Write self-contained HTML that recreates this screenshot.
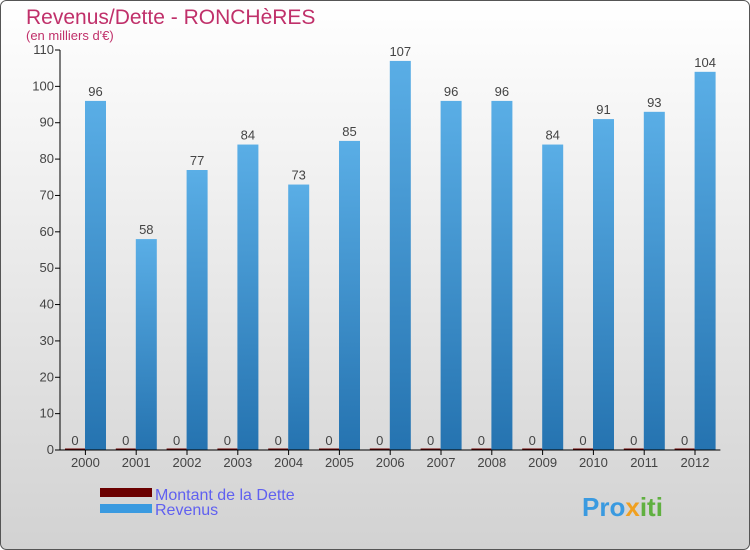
<!DOCTYPE html>
<html><head><meta charset="utf-8"><style>
body{margin:0}
#c{width:750px;height:550px;position:relative;overflow:hidden;font-family:"Liberation Sans",sans-serif}
</style></head><body>
<div id="c">
<svg width="750" height="550" xmlns="http://www.w3.org/2000/svg">
<defs>
<linearGradient id="bg" x1="0" y1="0" x2="0" y2="1"><stop offset="0" stop-color="#ffffff"/><stop offset="1" stop-color="#d2d2d2"/></linearGradient>
<linearGradient id="rv" x1="0" y1="0" x2="0" y2="1"><stop offset="0" stop-color="#5aaee6"/><stop offset="1" stop-color="#2573b0"/></linearGradient>
</defs>
<rect x="0.5" y="0.5" width="749" height="549" rx="6" fill="url(#bg)" stroke="#555"/>
<text x="26" y="24" font-size="21" fill="#c0306a">Revenus/Dette - RONCHèRES</text>
<text x="26" y="40" font-size="13" fill="#c0306a">(en milliers d'€)</text>
<g id="plot"></g>
<rect x="100" y="488" width="52" height="9" fill="#6b0000"/>
<text x="155" y="500" font-size="16" fill="#6060f0">Montant de la Dette</text>
<rect x="100" y="504" width="52" height="9" fill="#3a9ae0"/>
<text x="155" y="515" font-size="16" fill="#6060f0">Revenus</text>
<text x="582" y="516" font-size="26" font-weight="bold" fill="#3a9ae0">Pro<tspan fill="#f0a020">x</tspan><tspan fill="#60b040">iti</tspan></text>
</svg>
</div>
<script>
const categories=["2000","2001","2002","2003","2004","2005","2006","2007","2008","2009","2010","2011","2012"];
const dette=[0,0,0,0,0,0,0,0,0,0,0,0,0];
const revenus=[96,58,77,84,73,85,107,96,96,84,91,93,104];
const yTicks=[0,10,20,30,40,50,60,70,80,90,100,110];
const NS="http://www.w3.org/2000/svg";
const g=document.getElementById('plot');
const x0=60,gw=50.8,yb=450,yt=50,ymax=110;
const y=v=>yb-(v/ymax)*(yb-yt);
function mk(t,a,txt){const e=document.createElementNS(NS,t);for(const k in a)e.setAttribute(k,a[k]);if(txt!==undefined)e.textContent=txt;g.appendChild(e);return e;}
yTicks.forEach(v=>{
  const l=mk('line',{x1:x0-5,x2:x0,y1:y(v),y2:y(v),stroke:'#000'});
  
  
  const t=mk('text',{x:x0-6,y:y(v)+4,'font-size':13,fill:'#444','text-anchor':'end'},v);
  
  
});
categories.forEach((c,i)=>{
  const gx=x0+i*gw;
  const dh=Math.max(1.5,yb-y(dette[i]));
  const d=mk('rect',{x:gx+5,y:yb-dh,width:20,height:dh,fill:'#6b0000'});
  
  
  const dl=mk('text',{x:gx+15,y:y(dette[i])-5,'font-size':13,fill:'#444','text-anchor':'middle'},dette[i]);
  
  
  const r=mk('rect',{x:gx+25,y:y(revenus[i]),width:21,height:yb-y(revenus[i]),fill:'url(#rv)'});
  
  
  const rl=mk('text',{x:gx+35.5,y:y(revenus[i])-5,'font-size':13,fill:'#444','text-anchor':'middle'},revenus[i]);
  
  
  const tk=mk('line',{x1:gx+gw/2,x2:gx+gw/2,y1:yb,y2:yb+5,stroke:'#000'});
  
  
  const xl=mk('text',{x:gx+gw/2,y:yb+17,'font-size':13,fill:'#444','text-anchor':'middle'},c);
  
  
});
const ya=mk('line',{x1:x0,x2:x0,y1:yt,y2:yb,stroke:'#000'});


const xa=mk('line',{x1:x0,x2:x0+13*gw,y1:yb,y2:yb,stroke:'#000'});


</script>
</body></html>
